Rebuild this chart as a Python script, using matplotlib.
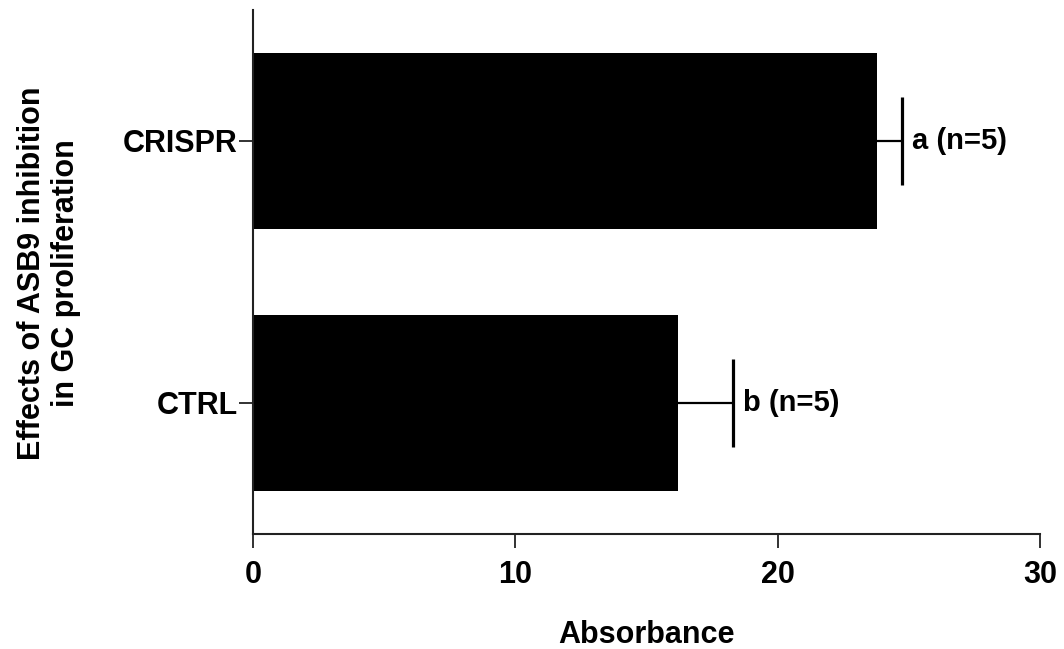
import numpy as np
import matplotlib
matplotlib.use("Agg")
from matplotlib import pyplot as plt

# Data
groups = ["CTRL", "CRISPR"]
absorbance = [16.2, 23.77]
sem = [2.1, 0.96]
letters = ["b (n=5)", "a (n=5)"]
x_ticks = [0, 10, 20, 30]

plt.rcParams["font.family"] = ["Liberation Sans", "DejaVu Sans"]
plt.rcParams["font.weight"] = "bold"

fig = plt.figure(figsize=(10.64, 6.49), dpi=100)
ax = fig.add_axes([0.2378, 0.1772, 0.7397, 0.8074])

y = np.arange(len(groups))
ax.barh(y, absorbance, height=0.67, color="black", zorder=2)

# One-sided error bars (upper only), hide the lower cap
_, caps, _ = ax.errorbar(absorbance, y, xerr=[np.zeros(len(sem)), sem], fmt="none",
                         ecolor="black", elinewidth=1.6, capsize=31.7, capthick=2.3,
                         zorder=3)
caps[0].set_visible(False)

for yi, val, err, txt in zip(y, absorbance, sem, letters):
    ax.annotate(txt, xy=(val + err, yi), xytext=(7, 0), textcoords="offset points",
                ha="left", va="center", fontsize=21, fontweight="bold")

ax.set_xlim(0, 30)
ax.set_ylim(-0.5, 1.5)
ax.set_xticks(x_ticks)
ax.set_yticks(y)
ax.set_yticklabels(groups)

for side in ["top", "right"]:
    ax.spines[side].set_visible(False)
for side in ["left", "bottom"]:
    ax.spines[side].set_linewidth(1.5)
    ax.spines[side].set_color("#222222")

ax.tick_params(axis="both", length=10, width=1.3, color="#222222", labelsize=22)
ax.tick_params(axis="x", pad=9)
ax.tick_params(axis="y", pad=1)
ax.set_xlabel("Absorbance", fontsize=22, fontweight="bold", labelpad=21)

fig.text(49 / 1064, 1 - 273 / 649, "Effects of ASB9 inhibition\nin GC proliferation",
         rotation=90, ha="center", va="center", multialignment="center",
         fontsize=22, fontweight="bold", linespacing=1.2)

fig.savefig("out.png", dpi=100)
